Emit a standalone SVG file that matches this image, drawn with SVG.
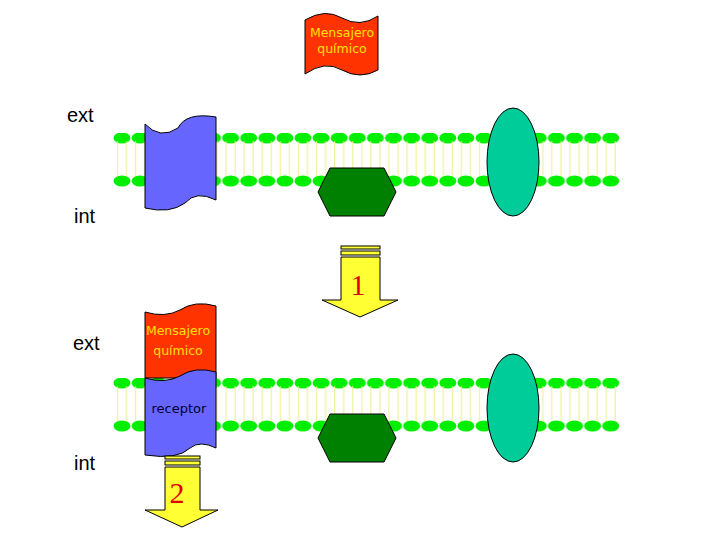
<svg xmlns="http://www.w3.org/2000/svg" width="720" height="540" viewBox="0 0 720 540">
<style>
.lbl{font-family:"Liberation Sans",Arial,sans-serif;font-size:20px;fill:#000}
.msg{font-family:"DejaVu Sans",sans-serif;font-size:12.5px;fill:#ffe000}
.ol{stroke:#000;stroke-width:1}
.num{font-family:"Liberation Serif",serif;font-size:30px;fill:#e00000}
</style>
<defs>
<pattern id="heads" x="113" y="133" width="18.1" height="60" patternUnits="userSpaceOnUse">
<ellipse cx="9" cy="5" rx="8.5" ry="5.5" fill="#00ee00"/>
<line x1="4.5" y1="8" x2="4.5" y2="45" stroke="#eeee88" stroke-width="1"/>
<line x1="13.5" y1="8" x2="13.5" y2="45" stroke="#eeee88" stroke-width="1"/>
<ellipse cx="9" cy="48" rx="8.5" ry="5.5" fill="#00ee00"/>
</pattern>
<pattern id="heads2" x="113" y="378" width="18.1" height="60" patternUnits="userSpaceOnUse">
<ellipse cx="9" cy="5" rx="8.5" ry="5.5" fill="#00ee00"/>
<line x1="4.5" y1="8" x2="4.5" y2="45" stroke="#eeee88" stroke-width="1"/>
<line x1="13.5" y1="8" x2="13.5" y2="45" stroke="#eeee88" stroke-width="1"/>
<ellipse cx="9" cy="48" rx="8.5" ry="5.5" fill="#00ee00"/>
</pattern>
</defs>
<rect width="720" height="540" fill="#fff"/>
<text class="lbl" x="67" y="122">ext</text>
<text class="lbl" x="74" y="223">int</text>
<text class="lbl" x="73" y="350">ext</text>
<text class="lbl" x="74" y="470">int</text>
<g id="membrane1"><rect x="113" y="133" width="507" height="55" fill="url(#heads)"/></g>
<g id="membrane2"><rect x="113" y="378" width="507" height="55" fill="url(#heads2)"/></g>
<g id="messenger1">
<path class="ol" d="M305 20 Q325 8 342 18 Q360 28 378 16 L378 70 Q360 80 342 70 Q325 60 305 74 Z" fill="#ff3300"/>
<text class="msg" x="342" y="37" text-anchor="middle">Mensajero</text>
<text class="msg" x="342" y="53" text-anchor="middle">químico</text>
</g>
<g id="channel1">
<path class="ol" d="M145 124 Q160 140 178 128 Q186 112 216 117 L216 200 Q196 190 185 203 Q170 214 145 208 Z" fill="#6666ff"/>
</g>
<g id="hex1"><polygon class="ol" points="330,168 384,168 396,192 384,216 330,216 318,192" fill="#008000"/></g>
<g id="oval1"><ellipse class="ol" cx="513" cy="162" rx="26" ry="54" fill="#00cc99"/></g>
<g id="arrow1">
<rect x="341" y="246" width="39" height="3" fill="#ffff33" class="ol" stroke-width="0.7"/>
<rect x="341" y="251" width="39" height="4" fill="#ffff33" class="ol" stroke-width="0.7"/>
<polygon class="ol" points="341,257 380,257 380,300 398,300 360,317 322,300 341,300" fill="#ffff33" stroke-width="0.7"/>
<text class="num" x="358" y="295" text-anchor="middle">1</text>
</g>
<g id="complex2">
<path class="ol" d="M145 312 Q165 318 180 310 Q195 300 216 306 L216 378 L145 378 Z" fill="#ff3300"/>
<path class="ol" d="M145 378 Q165 384 180 376 Q195 366 216 372 L216 448 Q200 440 190 448 Q178 460 145 455 Z" fill="#6666ff"/>
<text class="msg" x="178" y="335" text-anchor="middle">Mensajero</text>
<text class="msg" x="178" y="355" text-anchor="middle">químico</text>
<text x="179" y="413" text-anchor="middle" font-family="'DejaVu Sans',sans-serif" font-size="13" fill="#000033">receptor</text>
</g>
<g id="hex2"><polygon class="ol" points="330,414 384,414 396,438 384,462 330,462 318,438" fill="#008000"/></g>
<g id="oval2"><ellipse class="ol" cx="513" cy="408" rx="26" ry="54" fill="#00cc99"/></g>
<g id="arrow2">
<rect x="165" y="456" width="35" height="3" fill="#ffff33" class="ol" stroke-width="0.7"/>
<rect x="165" y="461" width="35" height="4" fill="#ffff33" class="ol" stroke-width="0.7"/>
<polygon class="ol" points="165,467 200,467 200,510 218,510 182,527 145,510 165,510" fill="#ffff33" stroke-width="0.7"/>
<text class="num" x="177" y="503" text-anchor="middle">2</text>
</g>
<g id="connectors"/>
</svg>
